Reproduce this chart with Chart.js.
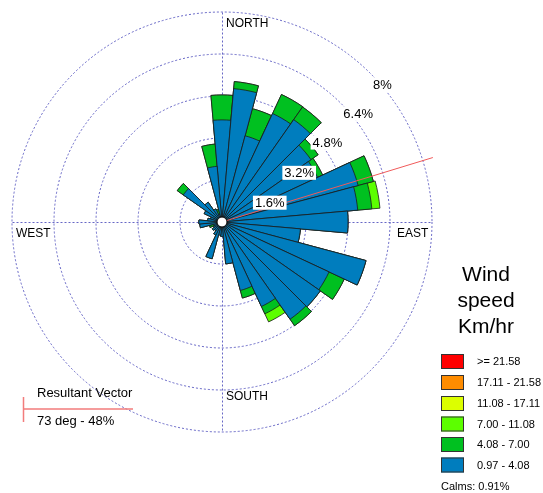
<!DOCTYPE html>
<html>
<head>
<meta charset="utf-8">
<script src="https://cdn.jsdelivr.net/npm/chart.js@4/dist/chart.umd.min.js"></script>
<style>
  html, body { margin: 0; padding: 0; background: #ffffff; }
  canvas { display: block; }
</style>
</head>
<body>
<canvas id="rose" width="543" height="493"></canvas>
<script>
// Wind directions (degrees, clockwise from north), one 10-degree sector each
const directions = [0, 10, 20, 30, 40, 50, 60, 70, 80, 90, 100, 110,
                    120, 130, 140, 150, 160, 170, 180, 190, 200, 210, 220, 230,
                    240, 250, 260, 270, 280, 290, 300, 310, 320, 330, 340, 350];

// Frequency (%) of each speed class per direction
const speed097to408 = [3.89, 5.10, 3.40, 4.56, 4.76, 4.14, 4.02, 5.37, 5.19, 4.80, 3.00, 5.68,
                       4.50, 4.57, 4.52, 3.55, 2.70, 1.60, 0.55, 0.50, 1.45, 0.55, 0.40, 0.45,
                       0.35, 0.33, 0.85, 0.88, 0.55, 0.45, 0.75, 1.80, 0.92, 0.55, 0.30, 2.13];
const speed408to700 = [0.95, 0.27, 1.07, 0.80, 0.59, 0.33, 0.21, 0.60, 0.54, 0.00, 0.00, 0.00,
                       0.64, 0.00, 0.30, 0.31, 0.30, 0.00, 0.00, 0.00, 0.00, 0.00, 0.00, 0.00,
                       0.00, 0.17, 0.00, 0.00, 0.00, 0.00, 0.00, 0.28, 0.00, 0.00, 0.20, 0.85];
const speed700to1108 = [0.00, 0.00, 0.00, 0.00, 0.00, 0.00, 0.00, 0.00, 0.31, 0.00, 0.00, 0.00,
                        0.00, 0.00, 0.00, 0.34, 0.00, 0.00, 0.00, 0.00, 0.00, 0.00, 0.00, 0.00,
                        0.00, 0.00, 0.00, 0.00, 0.00, 0.00, 0.00, 0.00, 0.00, 0.00, 0.00, 0.00];

// Ring values (%) and their labels
const ringTicks = [1.6, 3.2, 4.8, 6.4, 8];
const ringLabels = ['1.6%', '3.2%', '4.8%', '6.4%', '8%'];
const ringLabelBearings = [68, 57.5, 53, 51.5, 49.5];

// Speed classes (Km/hr), top to bottom in the key
const classLabels = ['>= 21.58', '17.11 - 21.58', '11.08 - 17.11', '7.00 - 11.08', '4.08 - 7.00', '0.97 - 4.08'];
const classColors = ['#ff0000', '#ff8c00', '#dcff00', '#5cff00', '#00c020', '#007dbe'];

const calmsPct = 0.91;
const resultantDeg = 73;
const resultantPct = 48;
const resultantReach = 8.4; // drawn length of the vector, in ring units

// Stacked sectors: each class reaches from the origin out to its cumulative total
const cumBlue = speed097to408.map(v => v);
const cumGreen = cumBlue.map((v, i) => v + speed408to700[i]);
const cumLight = cumGreen.map((v, i) => v + speed700to1108[i]);

const GRID = 'rgba(95, 95, 195, 0.95)';
const FONT = '"Liberation Sans", Arial, sans-serif';

function polar(scale, bearingDeg, dist) {
  const b = bearingDeg * Math.PI / 180;
  return { x: scale.xCenter + dist * Math.sin(b), y: scale.yCenter - dist * Math.cos(b) };
}

const roseDecor = {
  id: 'roseDecor',
  beforeDatasetsDraw(chart) {
    const r = chart.scales.r, ctx = chart.ctx;
    const R = r.drawingArea, cx = r.xCenter + 0.5, cy = r.yCenter + 0.5;
    ctx.save();
    ctx.strokeStyle = GRID;
    ctx.lineWidth = 1;
    ctx.setLineDash([2, 2]);
    ctx.beginPath();
    ctx.moveTo(cx, cy - R); ctx.lineTo(cx, cy + R);
    ctx.moveTo(cx - R, cy); ctx.lineTo(cx + R, cy);
    ctx.stroke();
    ctx.restore();
  },
  afterDatasetsDraw(chart) {
    const r = chart.scales.r, ctx = chart.ctx;
    const R = r.drawingArea, cx = r.xCenter, cy = r.yCenter;
    ctx.save();

    // resultant vector
    const tip = polar(r, resultantDeg, r.getDistanceFromCenterForValue(resultantReach));
    ctx.strokeStyle = '#f05a5a';
    ctx.lineWidth = 1;
    ctx.beginPath();
    ctx.moveTo(cx, cy);
    ctx.lineTo(tip.x, tip.y);
    ctx.stroke();

    // calms circle
    ctx.beginPath();
    ctx.arc(cx, cy, 5, 0, Math.PI * 2);
    ctx.fillStyle = '#ffffff';
    ctx.fill();
    ctx.strokeStyle = '#000000';
    ctx.lineWidth = 1;
    ctx.stroke();

    // ring labels
    ctx.font = '13px ' + FONT;
    ctx.textAlign = 'center';
    ctx.textBaseline = 'middle';
    const extra = [9.5, 7.5, 6, 6, 1];
    ringTicks.forEach((v, i) => {
      const p = polar(r, ringLabelBearings[i], r.getDistanceFromCenterForValue(v) + extra[i]);
      const w = ctx.measureText(ringLabels[i]).width;
      ctx.fillStyle = '#ffffff';
      ctx.fillRect(p.x - w / 2 - 2, p.y - 7, w + 4, 14);
      ctx.fillStyle = '#000000';
      ctx.fillText(ringLabels[i], p.x, p.y + 0.5);
    });

    // compass labels
    ctx.font = '12px ' + FONT;
    ctx.textAlign = 'left';
    ctx.fillStyle = '#000000';
    ctx.fillText('NORTH', cx + 4, cy - R + 12);
    ctx.fillText('SOUTH', cx + 4, cy + R - 35);
    ctx.fillText('EAST', cx + R - 35, cy + 12);
    ctx.fillText('WEST', cx - R + 4, cy + 12);
    ctx.restore();
  },
  afterDraw(chart) {
    const ctx = chart.ctx;
    ctx.save();
    ctx.fillStyle = '#000000';
    ctx.textBaseline = 'middle';

    // speed key title
    ctx.font = '21px ' + FONT;
    ctx.textAlign = 'center';
    ctx.fillText('Wind', 486, 275);
    ctx.fillText('speed', 486, 301);
    ctx.fillText('Km/hr', 486, 327);

    // speed key boxes
    ctx.font = '11px ' + FONT;
    ctx.textAlign = 'left';
    const boxTops = [354, 375, 396, 416.5, 437, 457.5];
    classLabels.forEach((lab, i) => {
      ctx.fillStyle = classColors[i];
      ctx.fillRect(441, boxTops[i], 23, 15);
      ctx.strokeStyle = '#333333';
      ctx.lineWidth = 1;
      ctx.strokeRect(441.5, boxTops[i] + 0.5, 22, 14);
      ctx.fillStyle = '#000000';
      ctx.fillText(lab, 477, boxTops[i] + 8);
    });
    ctx.fillText('Calms: ' + calmsPct.toFixed(2) + '%', 441, 487);

    // resultant vector key
    ctx.strokeStyle = '#f27c7c';
    ctx.lineWidth = 1.5;
    ctx.beginPath();
    ctx.moveTo(23.5, 397); ctx.lineTo(23.5, 422);
    ctx.moveTo(23.5, 409); ctx.lineTo(133, 409);
    ctx.stroke();
    ctx.font = '13px ' + FONT;
    ctx.fillStyle = '#000000';
    ctx.fillText('Resultant Vector', 37, 393);
    ctx.fillText(resultantDeg + ' deg - ' + resultantPct + '%', 37, 421);
    ctx.restore();
  }
};

new Chart(document.getElementById('rose'), {
  type: 'polarArea',
  data: {
    labels: directions.map(d => d + '°'),
    datasets: [
      { label: '0.97 - 4.08', data: cumBlue, backgroundColor: classColors[5] },
      { label: '4.08 - 7.00', data: cumGreen, backgroundColor: classColors[4] },
      { label: '7.00 - 11.08', data: cumLight, backgroundColor: classColors[3] }
    ]
  },
  options: {
    responsive: false,
    animation: false,
    devicePixelRatio: 1,
    layout: { padding: { left: 12, top: 12, right: 111, bottom: 61 } },
    elements: { arc: { borderColor: '#1c1c1c', borderWidth: 0.8 } },
    plugins: { legend: { display: false }, tooltip: { enabled: false } },
    scales: {
      r: {
        min: 0,
        max: 8,
        startAngle: -5,
        ticks: { display: false, stepSize: 1.6 },
        grid: { circular: true, color: GRID, lineWidth: 1 },
        border: { dash: [2, 2] },
        angleLines: { display: false },
        pointLabels: { display: false }
      }
    }
  },
  plugins: [roseDecor]
});
</script>
</body>
</html>
